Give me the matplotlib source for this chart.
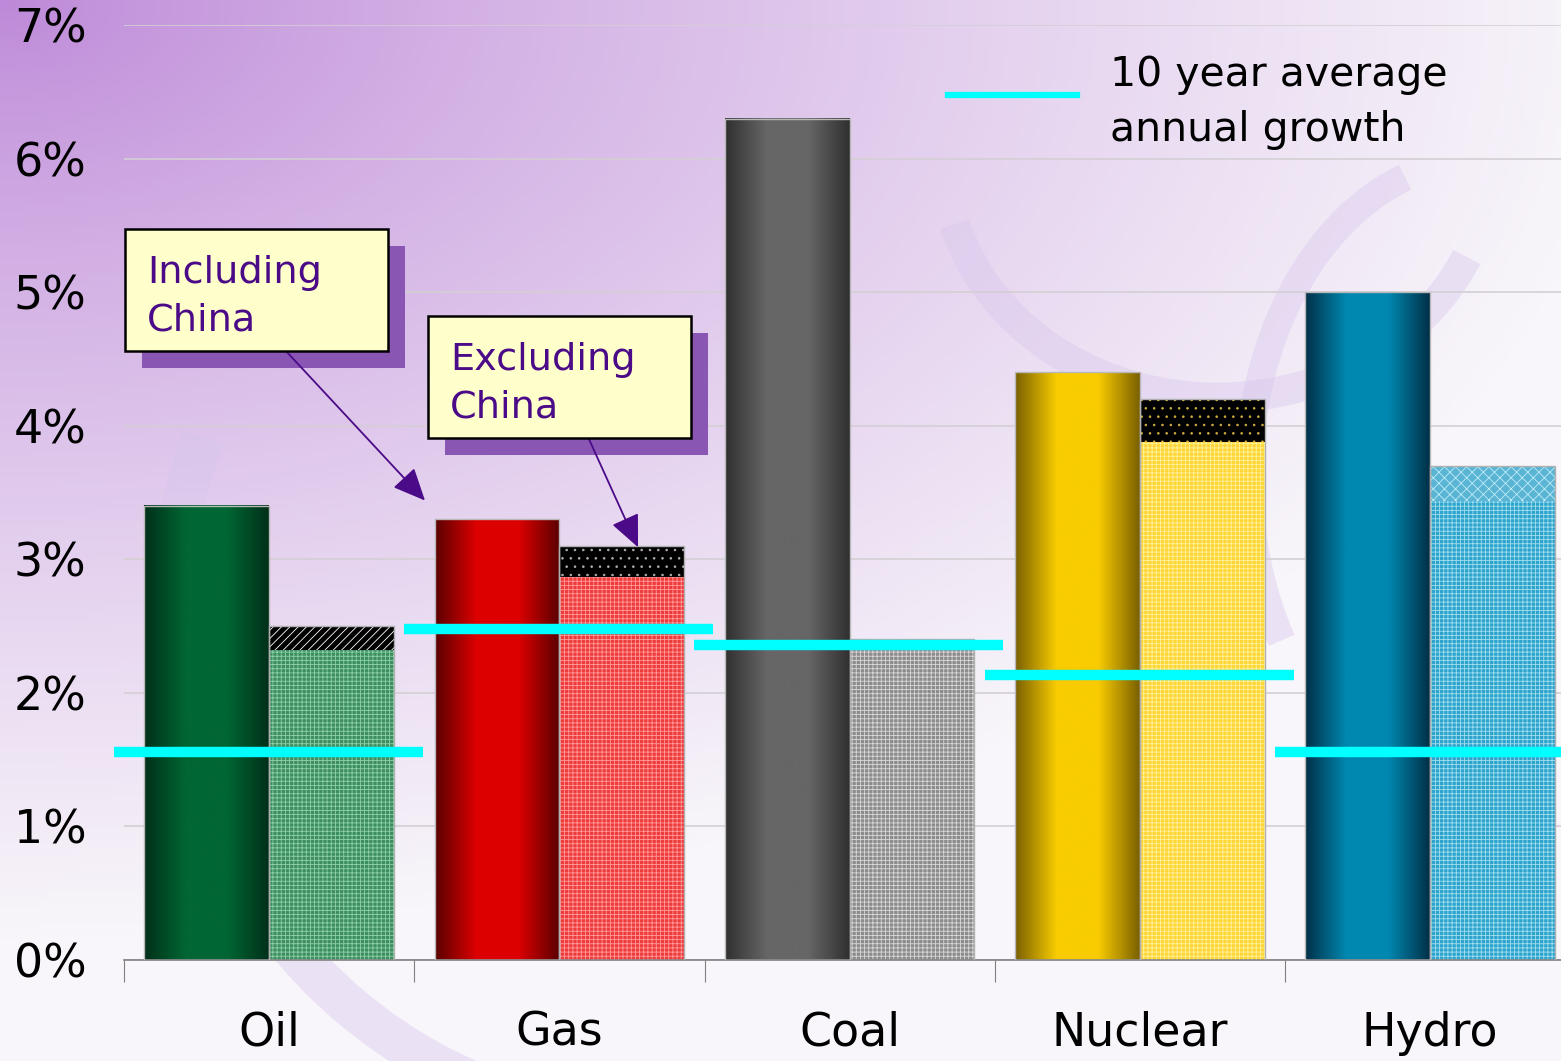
import numpy as np
import matplotlib
matplotlib.use("Agg")
import matplotlib.pyplot as plt
from matplotlib.colors import LinearSegmentedColormap, to_rgb
from matplotlib.patches import Rectangle, Arc
from matplotlib.text import Annotation

# growth rates, % per year
fuels = ["Oil", "Gas", "Coal", "Nuclear", "Hydro"]
incl_china = [3.4, 3.3, 6.3, 4.4, 5.0]
excl_china = [2.5, 3.1, 2.4, 4.2, 3.7]
excl_base = [2.32, 2.87, 2.4, 3.88, 3.44]
avg_10yr = [1.56, 2.48, 2.36, 2.13, 1.56]
ytick_vals = [0, 1, 2, 3, 4, 5, 6, 7]
ytick_labels = [f"{v}%" for v in ytick_vals]

# (edge, centre) shades for the cylinder-look bars
incl_shades = [("#00301a", "#006633"), ("#5a0000", "#dd0000"), ("#303030", "#666666"),
               ("#7a6000", "#f8cc00"), ("#003048", "#0088b0")]
excl_face = ["#3d8f62", "#ee3b3b", "#8c8c8c", "#ffd633", "#2fa3cc"]
excl_dots = ["#8fd0a8", "#ff9a9a", "#d8d8d8", "#fff0a0", "#9fe0f0"]
top_face = ["black", "black", "black", "black", "#5ab4d4"]
top_hatch = ["////", "..", "..", "..", "xxx"]
top_dots = ["white", "#b0b0b0", "#d0b040", "#d0b040", "#c0ecf8"]

W, H = 1561, 1061
fig = plt.figure(figsize=(W / 100, H / 100), dpi=100)


def fpx(x, y):
    return x / W, 1 - y / H


# background wash
bg = fig.add_axes([0, 0, 1, 1], zorder=-2)
yy, xx = np.mgrid[0:1:200j, 0:1:300j]
t = np.clip(np.sqrt((xx * 1.1) ** 2 + (yy * 1.3) ** 2) / 1.15, 0, 1) ** 0.8
c0 = np.array(to_rgb("#bd88d8"))
c1 = np.array(to_rgb("#f8f6fa"))
img = c0 + (c1 - c0) * t[..., None]
bg.imshow(img, extent=(0, 1, 0, 1), aspect="auto", origin="upper")
for (cx, cy, w, h, a1, a2, lw) in [(0.42, 0.42, 0.62, 0.95, 150, 260, 30),
                                   (0.78, 0.85, 0.35, 0.45, 200, 330, 22),
                                   (0.95, 0.55, 0.30, 0.60, 100, 230, 20)]:
    bg.add_patch(Arc((cx, cy), w, h, theta1=a1, theta2=a2, color="#d7c6ec",
                     lw=lw, alpha=0.4))
bg.set_xlim(0, 1)
bg.set_ylim(0, 1)
bg.axis("off")

x0, y0 = fpx(124, 960)
x1, y1 = fpx(1561, 25)
ax = fig.add_axes([x0, y0, x1 - x0, y1 - y0])
ax.patch.set_alpha(0)

x = np.arange(len(fuels))
bw = 0.43
plt.rcParams["hatch.linewidth"] = 0.6

for i in range(len(fuels)):
    edge, mid = incl_shades[i]
    cmap = LinearSegmentedColormap.from_list("cyl", [edge, mid, mid, edge])
    grad = np.linspace(0, 1, 256)[None, :]
    ax.imshow(grad, cmap=cmap, extent=(x[i] - bw, x[i], 0, incl_china[i]),
              aspect="auto", zorder=2)

ax.bar(x - bw / 2, incl_china, bw, fill=False, edgecolor="#b8b8b8", lw=1, zorder=3)
ax.bar(x + bw / 2, excl_base, bw, color=excl_face, edgecolor=excl_dots,
       hatch="++++", lw=0, zorder=2)
tops = np.array(excl_china) - np.array(excl_base)
ax.bar(x + bw / 2, tops, bw, bottom=excl_base, color=top_face, edgecolor=top_dots,
       lw=0, zorder=2)
for i in range(len(fuels)):
    if tops[i] > 0:
        ax.bar(x[i] + bw / 2, tops[i], bw, bottom=excl_base[i], fill=False,
               edgecolor=top_dots[i], hatch=top_hatch[i], lw=0, zorder=2)
ax.bar(x + bw / 2, excl_china, bw, fill=False, edgecolor="#b0b0b0", lw=1, zorder=3)

ax.hlines(avg_10yr, x - 0.535, x + 0.53, colors="#00ffff", lw=7.5, zorder=4,
          clip_on=False)

ax.set_xticks(np.arange(len(fuels)) - 0.5)
ax.set_xticklabels([])
ax.tick_params(axis="x", length=16, color="#808080", direction="out")
ax.set_xlim(-0.5, -0.5 + 1437 / 290.25)
ax.set_ylim(0, 7)
ax.set_yticks(ytick_vals)
ax.set_yticklabels(ytick_labels, fontsize=33)
ax.tick_params(axis="y", length=0, pad=27)
ax.grid(axis="y", color="#d4cfd4", lw=1.2, zorder=0)
ax.set_axisbelow(True)
for i, name in enumerate(fuels):
    ax.text(x[i], -0.55, name, ha="center", va="center", fontsize=33)
for s in ["left", "right", "top"]:
    ax.spines[s].set_visible(False)
ax.spines["bottom"].set_color("#808080")
ax.spines["bottom"].set_linewidth(1.2)

# legend for the average line
fig.add_artist(plt.Line2D([948 / W, 1077 / W], [1 - 95 / H] * 2, color="#00ffff",
                          lw=4.5))
fig.text(*fpx(1110, 75), "10 year average", fontsize=29.5, va="center", ha="left")
fig.text(*fpx(1110, 130), "annual growth", fontsize=29.5, va="center", ha="left")

# callouts
purple = "#4b0a87"
for (bx, by, label, tip) in [(125, 229, "Including\nChina", (0.537, 3.44)),
                              (428, 316, "Excluding\nChina", (1.271, 3.09))]:
    sx, sy = fpx(bx + 17, by + 139)
    fig.add_artist(Rectangle((sx, sy), 263 / W, 122 / H, transform=fig.transFigure,
                             facecolor="#8a56b4", edgecolor="none", zorder=5))
    arrow = Annotation("", xy=tip, xycoords=ax.transData,
                       xytext=fpx(bx + 160, by + 121), textcoords="figure fraction",
                       arrowprops=dict(arrowstyle="-|>,head_length=1.0,head_width=0.45",
                                       mutation_scale=20, color=purple, lw=1.3,
                                       shrinkA=0, shrinkB=0),
                       annotation_clip=False)
    arrow.set_zorder(6)
    fig.add_artist(arrow)
    rx, ry = fpx(bx, by + 122)
    fig.add_artist(Rectangle((rx, ry), 263 / W, 122 / H, transform=fig.transFigure,
                             facecolor="#ffffcc", edgecolor="black", lw=1.8, zorder=7))
    fig.text(*fpx(bx + 22, by + 68), label, fontsize=27.5, color=purple, va="center",
             ha="left", linespacing=1.42, zorder=8)

fig.savefig("out.png", dpi=100)
